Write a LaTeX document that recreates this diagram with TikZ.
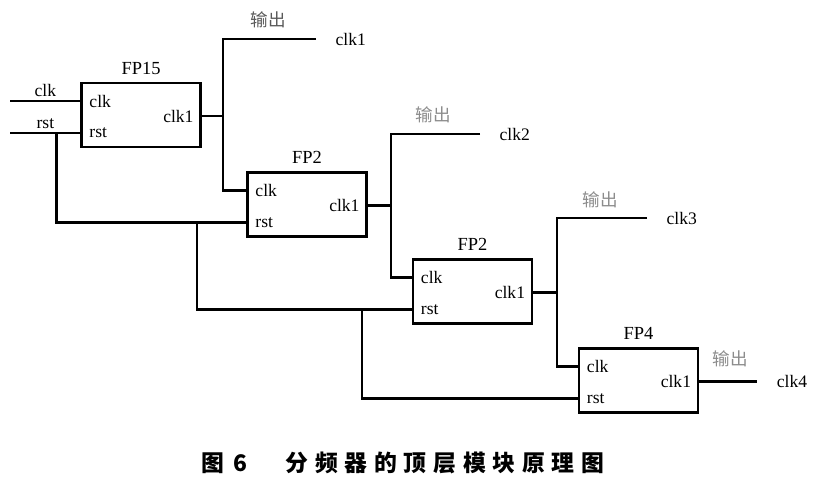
\documentclass[tikz,border=0pt]{standalone}
\usepackage{fontspec}
\setmainfont{Liberation Serif}
\newfontfamily\cjk{Noto Sans CJK SC}
\usetikzlibrary{positioning, calc}

\begin{document}
\begin{tikzpicture}[
  x=0.02cm, y=-0.02cm,
  fpbox/.style={rectangle, draw=black, line width=1.3pt,
                minimum width=2.38cm, minimum height=1.28cm, inner sep=0pt},
  wire/.style={line width=1.4pt},
  pin/.style={font=\fontsize{10}{12}\selectfont, inner sep=1pt},
  title/.style={font=\fontsize{10.5}{12}\selectfont, inner sep=1pt},
  outlbl/.style={font=\cjk\fontsize{10}{12}\selectfont, text=black!45, inner sep=1pt},
  capchar/.style={font=\cjk\bfseries\fontsize{13}{15}\selectfont, inner sep=0pt}
]
\useasboundingbox (0,0) rectangle (814,482);

% Divider blocks
\node[fpbox] (fpa) at (141,115)   {};
\node[fpbox] (fpb) at (307,204.5) {};
\node[fpbox] (fpc) at (472.5,291.5) {};
\node[fpbox] (fpd) at (638.5,380.5) {};

\node[title, above=3pt of fpa] {FP15};
\node[title, above=3pt of fpb] {FP2};
\node[title, above=3pt of fpc] {FP2};
\node[title, above=3pt of fpd] {FP4};

% Pins of each block
\foreach \b in {fpa,fpb,fpc,fpd}{
  \coordinate (\b-clk) at ($(\b.west)+(0,-14)$);
  \coordinate (\b-rst) at ($(\b.west)+(0,18)$);
  \coordinate (\b-out) at ($(\b.east)+(0,1)$);
  \node[pin, anchor=west] (\b-clkl) at ($(\b-clk)+(7,0)$) {clk};
  \node[pin, anchor=west] (\b-rstl) at ($(\b-rst)+(7,0)$) {rst};
  \node[pin, anchor=east] (\b-outl) at ($(\b-out)+(-6,0)$) {clk1};
}

% Inputs
\coordinate (clkin) at ($(fpa-clk)+(-70,0)$);
\coordinate (rstin) at ($(fpa-rst)+(-70,0)$);
\node[pin, above=1pt] (clkinl) at ($(clkin)!0.5!(fpa-clk)$) {clk};
\node[pin, above=1pt] (rstinl) at ($(rstin)!0.5!(fpa-rst)$) {rst};
\draw[wire] (clkin) -- (fpa-clk);
\draw[wire] (rstin) -- (fpa-rst);

% Reset chain
\coordinate (ra) at ($(fpa-rst)+(-24,0)$);
\coordinate (rb) at ($(fpb-rst)+(-49.5,0)$);
\coordinate (rc) at ($(fpc-rst)+(-50,0)$);
\draw[wire] (ra) |- (fpb-rst);
\draw[wire] (rb) |- (fpc-rst);
\draw[wire] (rc) |- (fpd-rst);

% Output taps
\coordinate (ta) at ($(fpa-out)+(21.5,0)$);
\coordinate (tb) at ($(fpb-out)+(23.5,0)$);
\coordinate (tc) at ($(fpc-out)+(24,0)$);
\coordinate (oa) at (316,39);
\coordinate (ob) at (480,134);
\coordinate (oc) at (647,218);
\coordinate (od) at ($(fpd-out)+(58,0)$);

\draw[wire] (fpa-out) -- (ta);
\draw[wire] (oa) -| (ta) |- (fpb-clk);
\draw[wire] (fpb-out) -- (tb);
\draw[wire] (ob) -| (tb) |- (fpc-clk);
\draw[wire] (fpc-out) -- (tc);
\draw[wire] (oc) -| (tc) |- (fpd-clk);
\draw[wire] (fpd-out) -- (od);

\node[pin, right=10pt of oa] (clka) {clk1};
\node[pin, right=10pt of ob] (clkb) {clk2};
\node[pin, right=10pt of oc] (clkc) {clk3};
\node[pin, right=10pt of od] (clkd) {clk4};

\node[outlbl, text=black!65] (outa) at (268,20)  {输出};
\node[outlbl] (outb) at (433,115) {输出};
\node[outlbl] (outc) at (600,200) {输出};
\node[outlbl] (outd) at (730,359) {输出};

% Caption
\node[capchar] (capa) at (213,463) {图};
\node[capchar] (capb) at (240,463) {6};
\foreach \c [count=\i from 0] in {分,频,器,的,顶,层,模,块,原,理,图}
  \node[capchar] (cap\i) at (297+29.6*\i,463) {\c};
\end{tikzpicture}
\end{document}
